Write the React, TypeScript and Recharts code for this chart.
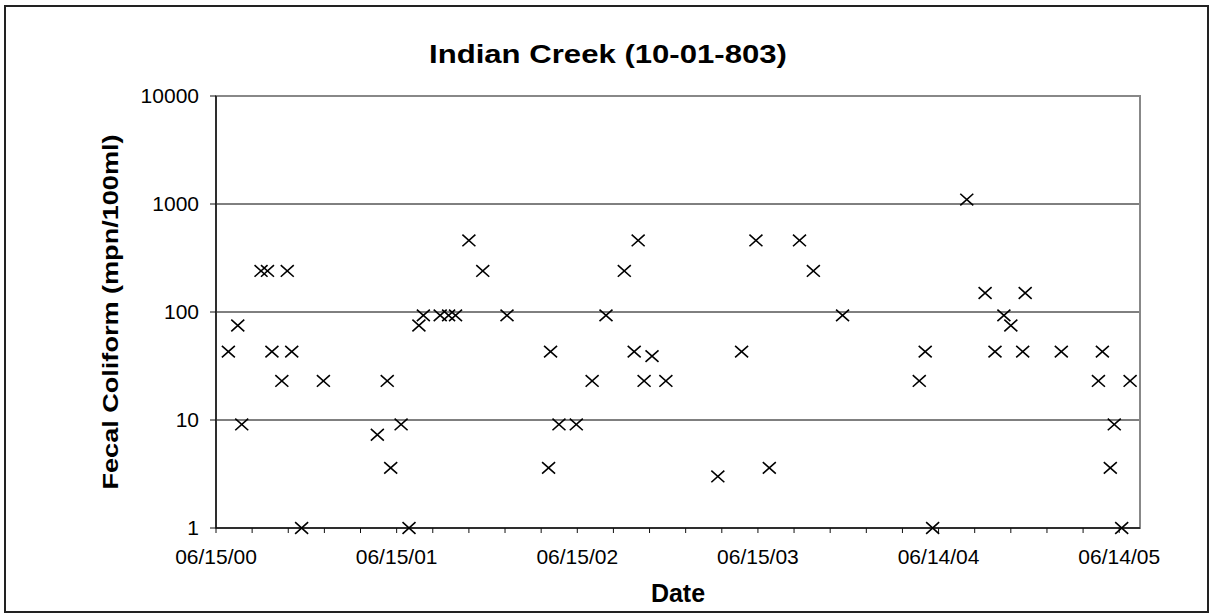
import React from "react";
import {
  ScatterChart,
  Scatter,
  XAxis,
  YAxis,
  CartesianGrid,
  ReferenceArea,
} from "recharts";

// sampling dates and fecal coliform counts (mpn/100ml)
const sampleDates = [
  "2000-07-10", "2000-07-29", "2000-08-06", "2000-09-14", "2000-09-27",
  "2000-10-06", "2000-10-26", "2000-11-06", "2000-11-15", "2000-12-05",
  "2001-01-18", "2001-05-07", "2001-05-27", "2001-06-03", "2001-06-24",
  "2001-07-10", "2001-07-30", "2001-08-08", "2001-09-11", "2001-09-28",
  "2001-10-12", "2001-11-08", "2001-12-06", "2002-01-24", "2002-04-18",
  "2002-04-22", "2002-05-09", "2002-06-13", "2002-07-15", "2002-08-12",
  "2002-09-18", "2002-10-08", "2002-10-16", "2002-10-28", "2002-11-13",
  "2002-12-11", "2003-03-26", "2003-05-13", "2003-06-11", "2003-07-08",
  "2003-09-07", "2003-10-05", "2003-12-03", "2004-05-06", "2004-05-18",
  "2004-06-02", "2004-08-10", "2004-09-16", "2004-10-06", "2004-10-24",
  "2004-11-07", "2004-12-01", "2004-12-06", "2005-02-17", "2005-05-03",
  "2005-05-11", "2005-05-27", "2005-06-04", "2005-06-19", "2005-07-06",
];

const fecalColiform = [
  43, 75, 9.1, 240, 240,
  43, 23, 240, 43, 1,
  23, 7.3, 23, 3.6, 9.1,
  1, 75, 93, 93, 93,
  93, 460, 240, 93, 3.6,
  43, 9.1, 9.1, 23, 93,
  240, 43, 460, 23, 39,
  23, 3, 43, 460, 3.6,
  460, 240, 93, 23, 43,
  1, 1100, 150, 43, 93,
  75, 43, 150, 43, 23,
  43, 3.6, 9.1, 1, 23,
];

const yTicks = [1, 10, 100, 1000, 10000];
const START_DATE = "2000-06-15";
const TICK_STEP_DAYS = 73; // five minor ticks per year
const AXIS_END_DAYS = 1867;

const DAY_MS = 86400000;
const startMs = Date.parse(START_DATE);
const toDays = (d: string) => Math.round((Date.parse(d) - startMs) / DAY_MS);

const data = sampleDates.map((d, i) => ({ day: toDays(d), count: fecalColiform[i] }));

const xTicks: number[] = [];
for (let d = 0; d <= AXIS_END_DAYS; d += TICK_STEP_DAYS) xTicks.push(d);

const pad = (n: number) => String(n).padStart(2, "0");
function formatDay(day: number) {
  const dt = new Date(startMs + day * DAY_MS);
  return `${pad(dt.getUTCMonth() + 1)}/${pad(dt.getUTCDate())}/${pad(dt.getUTCFullYear() % 100)}`;
}

const FONT = "'Liberation Sans', Arial, sans-serif";

function DateTick(props: any) {
  const { x, y, payload } = props;
  if (payload.value % (TICK_STEP_DAYS * 5) !== 0) return <g />;
  return (
    <text x={x} y={y} dy="0.71em" textAnchor="middle" fontSize={21} fontFamily={FONT} fill="#000">
      {formatDay(payload.value)}
    </text>
  );
}

function CrossMark(props: any) {
  const { cx, cy } = props;
  if (cx == null || cy == null) return <g />;
  const w = 6.5;
  const h = 5.8;
  return (
    <path
      d={`M${cx - w},${cy - h}L${cx + w},${cy + h}M${cx - w},${cy + h}L${cx + w},${cy - h}`}
      stroke="#000"
      strokeWidth={1.6}
      fill="none"
    />
  );
}

export default function App() {
  return (
    <div style={{ position: "absolute", left: 0, top: 0, width: 1210, height: 615, background: "#fff" }}>
      <div
        style={{
          position: "absolute",
          left: 4,
          top: 5,
          width: 1205,
          height: 608,
          boxSizing: "border-box",
          border: "2px solid #222",
        }}
      />
      <svg
        width={1210}
        height={615}
        style={{ position: "absolute", left: 0, top: 0, pointerEvents: "none" }}
      >
        <text
          x={608}
          y={63}
          textAnchor="middle"
          fontSize={26}
          fontWeight="bold"
          fontFamily={FONT}
          textLength={358}
          lengthAdjust="spacingAndGlyphs"
        >
          Indian Creek (10-01-803)
        </text>
        <text
          x={678}
          y={602}
          textAnchor="middle"
          fontSize={25}
          fontWeight="bold"
          fontFamily={FONT}
        >
          Date
        </text>
        <text
          x={118}
          y={312}
          transform="rotate(-90 118 312)"
          textAnchor="middle"
          fontSize={22}
          fontWeight="bold"
          fontFamily={FONT}
          textLength={355}
          lengthAdjust="spacingAndGlyphs"
        >
          Fecal Coliform (mpn/100ml)
        </text>
      </svg>
      <div style={{ position: "absolute", left: 0, top: 0 }}>
        <ScatterChart width={1210} height={615} margin={{ top: 96, right: 70, bottom: 0, left: 0 }}>
          <CartesianGrid
            horizontal
            vertical={false}
            horizontalValues={[10, 100, 1000]}
            stroke="#000"
            strokeWidth={1}
          />
          <ReferenceArea
            x1={0}
            x2={AXIS_END_DAYS}
            y1={1}
            y2={10000}
            fill="none"
            stroke="#888"
            strokeWidth={2}
          />
          <XAxis
            type="number"
            dataKey="day"
            domain={[0, AXIS_END_DAYS]}
            ticks={xTicks}
            interval={0}
            height={87}
            tickSize={5}
            tickMargin={16}
            tick={<DateTick />}
            axisLine={{ stroke: "#111", strokeWidth: 1.5 }}
            tickLine={{ stroke: "#111" }}
          />
          <YAxis
            type="number"
            dataKey="count"
            scale="log"
            domain={[1, 10000]}
            ticks={yTicks}
            interval={0}
            width={216}
            tickSize={6}
            tickMargin={11}
            tick={{ fill: "#000", fontSize: 21, fontFamily: FONT }}
            axisLine={{ stroke: "#111", strokeWidth: 1.5 }}
            tickLine={{ stroke: "#111" }}
          />
          <Scatter data={data} shape={<CrossMark />} isAnimationActive={false} />
        </ScatterChart>
      </div>
    </div>
  );
}
